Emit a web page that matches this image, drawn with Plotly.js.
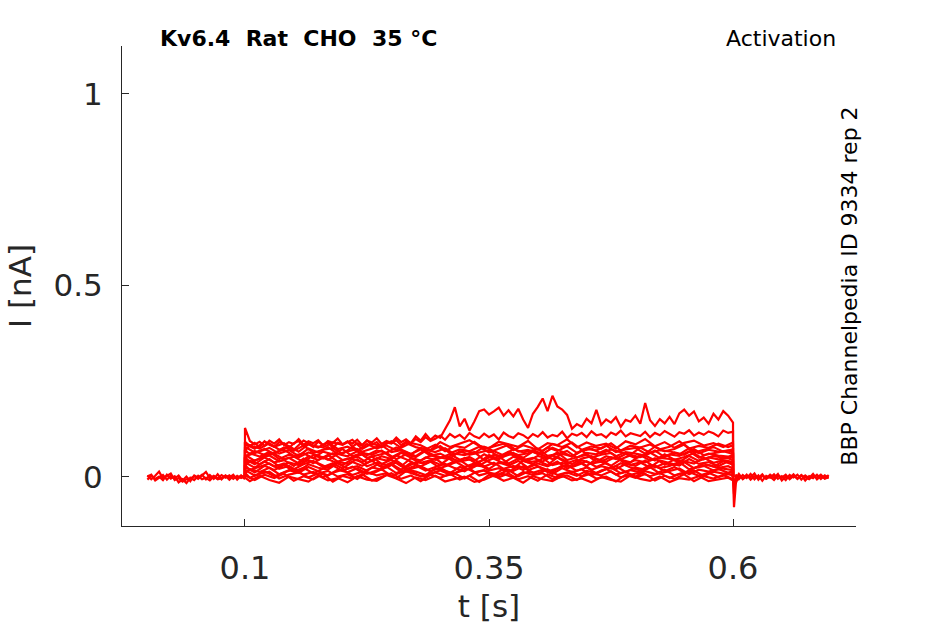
<!DOCTYPE html>
<html>
<head>
<meta charset="utf-8">
<script src="https://cdn.plot.ly/plotly-3.0.1.min.js"></script>
<style>html,body{margin:0;padding:0;background:#fff;}#chart{width:945px;height:624px;}</style>
</head>
<body>
<div id="chart"></div>
<script>
// ---- time grids (s) ----
const tPre = [0.000,0.004,0.008,0.012,0.016,0.020,0.024,0.028,0.032,0.036,0.040,0.044,0.048,0.052,0.056,0.060,0.064,0.068,0.072,0.076,0.080,0.084,0.088,0.092,0.096,0.100];
const tPost = [0.600,0.601,0.603,0.606,0.610,0.614,0.618,0.622,0.626,0.630,0.634,0.638,0.642,0.646,0.650,0.654,0.658,0.662,0.666,0.670,0.674,0.678,0.682,0.686,0.690,0.694,0.698];
const tStepA = [0.10,0.10,0.11,0.12,0.13,0.14,0.15,0.16,0.17,0.18,0.19,0.20,0.21,0.22,0.23,0.24,0.25,0.26,0.27,0.28,0.29,0.30,0.31,0.32,0.33,0.34,0.35,0.36,0.37,0.38,0.39,0.40,0.41,0.42,0.43,0.44,0.45,0.46,0.47,0.48,0.49,0.50,0.51,0.52,0.53,0.54,0.55,0.56,0.57,0.58,0.59,0.60,0.60];
const tStepB = [0.100,0.100,0.105,0.115,0.125,0.135,0.145,0.155,0.165,0.175,0.185,0.195,0.205,0.215,0.225,0.235,0.245,0.255,0.265,0.275,0.285,0.295,0.305,0.315,0.325,0.335,0.345,0.355,0.365,0.375,0.385,0.395,0.405,0.415,0.425,0.435,0.445,0.455,0.465,0.475,0.485,0.495,0.505,0.515,0.525,0.535,0.545,0.555,0.565,0.575,0.585,0.595,0.600,0.600];
const tHigh = [0.100,0.100,0.105,0.110,0.115,0.120,0.125,0.130,0.135,0.140,0.145,0.150,0.155,0.160,0.165,0.170,0.175,0.180,0.185,0.190,0.195,0.200,0.205,0.210,0.215,0.220,0.225,0.230,0.235,0.240,0.245,0.250,0.255,0.260,0.265,0.270,0.275,0.280,0.285,0.290,0.295,0.300,0.305,0.310,0.315,0.320,0.325,0.330,0.335,0.340,0.345,0.350,0.355,0.360,0.365,0.370,0.375,0.380,0.385,0.390,0.395,0.400,0.405,0.410,0.415,0.420,0.425,0.430,0.435,0.440,0.445,0.450,0.455,0.460,0.465,0.470,0.475,0.480,0.485,0.490,0.495,0.500,0.505,0.510,0.515,0.520,0.525,0.530,0.535,0.540,0.545,0.550,0.555,0.560,0.565,0.570,0.575,0.580,0.585,0.590,0.595,0.600,0.600];

// ---- baseline before the step (nA) ----
const pre1 = [0.004,-0.006,0.003,0.014,-0.004,0.002,0.009,-0.008,-0.003,-0.012,-0.006,-0.004,0.002,-0.005,0.004,0.013,-0.003,0.003,-0.004,0.005,-0.002,0.004,-0.005,0.003,-0.003,0.002];
const pre2 = [-0.007,0.003,-0.005,0.001,-0.008,0.006,-0.004,0.002,-0.014,-0.006,-0.016,-0.002,-0.008,0.003,-0.006,-0.002,-0.009,0.001,-0.006,-0.003,0.003,-0.007,0.002,-0.004,0.004,-0.006];
const pre3 = [0.001,0.006,-0.009,-0.002,0.005,-0.007,0.003,-0.004,0.004,-0.009,0.001,-0.011,0.004,-0.002,0.006,-0.006,0.005,-0.005,0.007,-0.006,0.004,-0.002,0.006,-0.007,0.003,-0.001];

// ---- tail after the step (nA) ----
const post1 = [0.004,-0.079,-0.015,0.003,-0.004,0.006,-0.007,0.002,-0.003,0.007,-0.005,0.001,-0.008,0.004,-0.002,0.006,-0.006,0.003,-0.004,0.005,-0.009,0.002,-0.003,0.006,-0.005,0.004,-0.002];
const post2 = [-0.002,-0.045,0.006,-0.006,0.005,-0.003,0.008,-0.006,0.004,-0.010,0.003,-0.002,0.007,-0.005,0.002,-0.008,0.005,-0.001,0.006,-0.007,0.004,-0.003,0.008,-0.006,0.003,-0.004,0.005];
const post3 = [0.006,-0.025,-0.004,0.008,-0.006,0.002,-0.001,0.009,-0.007,0.003,-0.004,0.006,-0.002,0.008,-0.009,0.001,-0.003,0.007,-0.005,0.004,-0.001,-0.006,0.003,-0.002,0.006,-0.004,-0.001];

// ---- step sweeps on grid A (nA) ----
const a0 = [0,0.004,-0.008,0.006,-0.003,0.009,-0.010,0.002,-0.006,0.008,-0.012,0.003,-0.004,0.007,-0.009,0.001,0.010,-0.005,0.004,-0.011,0.006,-0.002,0.008,-0.007,0.003,-0.013,0.005,-0.001,0.009,-0.006,0.002,-0.010,0.007,-0.003,0.004,-0.008,0.010,-0.004,0.001,-0.012,0.006,-0.002,0.008,-0.009,0.003,-0.005,0.007,-0.011,0.002,-0.004,0.005,-0.006,0];
const a1 = [0,0.018,0.004,0.015,0.002,0.012,0.021,0.006,0.013,-0.001,0.011,0.019,0.005,0.014,0.008,0.020,0.003,0.012,0.016,0.001,0.010,0.017,0.006,0.013,0.022,0.004,0.011,0.007,0.018,0.002,0.014,0.009,0.020,0.005,0.012,0.003,0.016,0.010,0.021,0.006,0.013,0.001,0.015,0.008,0.019,0.004,0.011,0.017,0.002,0.014,0.009,0.012,0];
const a2 = [0,0.026,0.012,0.029,0.018,0.031,0.014,0.024,0.009,0.022,0.030,0.016,0.027,0.011,0.025,0.019,0.032,0.013,0.021,0.028,0.015,0.024,0.010,0.026,0.020,0.033,0.017,0.023,0.012,0.029,0.018,0.027,0.014,0.022,0.031,0.016,0.025,0.009,0.021,0.028,0.013,0.024,0.019,0.030,0.015,0.026,0.011,0.023,0.029,0.017,0.022,0.018,0];
const a3 = [0,0.038,0.024,0.041,0.027,0.035,0.020,0.033,0.042,0.026,0.036,0.022,0.039,0.029,0.043,0.025,0.034,0.019,0.037,0.028,0.040,0.023,0.032,0.044,0.027,0.036,0.021,0.038,0.030,0.042,0.024,0.035,0.028,0.040,0.022,0.033,0.041,0.026,0.037,0.020,0.034,0.029,0.043,0.025,0.036,0.031,0.039,0.023,0.035,0.027,0.041,0.032,0];
const a4 = [0,0.046,0.033,0.051,0.038,0.044,0.029,0.048,0.036,0.052,0.041,0.031,0.047,0.039,0.053,0.034,0.045,0.028,0.049,0.037,0.043,0.032,0.050,0.040,0.046,0.030,0.044,0.054,0.035,0.048,0.038,0.042,0.031,0.051,0.036,0.045,0.029,0.047,0.040,0.053,0.033,0.044,0.038,0.049,0.032,0.046,0.041,0.035,0.050,0.037,0.043,0.039,0];
const a5 = [0,0.058,0.042,0.055,0.061,0.046,0.053,0.039,0.057,0.048,0.062,0.044,0.051,0.059,0.041,0.054,0.047,0.063,0.050,0.043,0.056,0.049,0.060,0.045,0.052,0.038,0.057,0.046,0.061,0.053,0.042,0.055,0.048,0.064,0.044,0.051,0.058,0.040,0.054,0.047,0.060,0.049,0.056,0.043,0.059,0.045,0.052,0.062,0.046,0.055,0.050,0.053,0];
const a6 = [0,0.052,0.068,0.057,0.064,0.071,0.055,0.062,0.049,0.066,0.059,0.073,0.054,0.063,0.058,0.069,0.051,0.065,0.060,0.072,0.056,0.061,0.048,0.067,0.058,0.064,0.070,0.053,0.066,0.057,0.062,0.074,0.055,0.060,0.068,0.050,0.063,0.059,0.071,0.054,0.065,0.061,0.056,0.069,0.052,0.064,0.058,0.073,0.057,0.062,0.067,0.060,0];
const a7 = [0,0.079,0.064,0.073,0.060,0.077,0.068,0.082,0.063,0.071,0.075,0.061,0.078,0.066,0.074,0.083,0.065,0.070,0.059,0.076,0.069,0.081,0.062,0.072,0.067,0.079,0.064,0.073,0.084,0.066,0.071,0.060,0.077,0.068,0.080,0.063,0.074,0.069,0.082,0.065,0.072,0.076,0.061,0.079,0.067,0.073,0.085,0.064,0.070,0.078,0.066,0.072,0];
const a8 = [0,0.086,0.074,0.092,0.079,0.088,0.071,0.095,0.082,0.077,0.090,0.084,0.097,0.073,0.087,0.080,0.093,0.076,0.089,0.083,0.070,0.091,0.078,0.086,0.096,0.081,0.075,0.092,0.085,0.079,0.094,0.072,0.088,0.083,0.098,0.077,0.090,0.081,0.087,0.074,0.093,0.085,0.099,0.080,0.091,0.076,0.089,0.095,0.082,0.088,0.078,0.090,0];

// ---- step sweeps on grid B (nA) ----
const b0 = [0,-0.002,-0.011,0.003,-0.008,-0.015,0.001,-0.006,-0.012,0.004,-0.009,-0.003,-0.014,0.002,-0.007,-0.010,0.005,-0.004,-0.016,-0.001,-0.008,0.003,-0.012,-0.005,0.001,-0.013,-0.007,0.004,-0.010,-0.002,-0.015,0.002,-0.006,-0.011,0.003,-0.009,-0.004,-0.014,0.000,-0.008,-0.012,0.004,-0.005,-0.010,0.001,-0.013,-0.003,-0.007,0.002,-0.011,-0.006,-0.002,-0.009,0];
const b1 = [0,0.011,-0.002,0.008,0.014,-0.004,0.006,0.012,-0.001,0.009,0.016,0.001,0.007,-0.005,0.013,0.004,0.010,-0.003,0.015,0.006,0.000,0.012,0.003,0.009,-0.004,0.011,0.017,0.002,0.008,-0.002,0.013,0.005,0.010,-0.006,0.007,0.014,0.001,0.009,0.004,0.015,-0.001,0.006,0.012,0.002,0.010,-0.003,0.008,0.013,0.003,0.011,0.000,0.007,0.004,0];
const b2 = [0,0.009,0.021,0.013,0.024,0.007,0.018,0.011,0.026,0.016,0.004,0.019,0.012,0.023,0.008,0.017,0.027,0.010,0.020,0.014,0.005,0.022,0.015,0.009,0.025,0.012,0.018,0.006,0.021,0.016,0.028,0.011,0.019,0.008,0.023,0.013,0.020,0.004,0.017,0.024,0.010,0.018,0.012,0.026,0.009,0.015,0.022,0.007,0.019,0.014,0.021,0.011,0.016,0];
const b3 = [0,0.031,0.018,0.027,0.035,0.021,0.029,0.014,0.033,0.024,0.019,0.036,0.022,0.028,0.016,0.032,0.025,0.038,0.020,0.030,0.017,0.026,0.034,0.023,0.015,0.031,0.027,0.037,0.021,0.029,0.018,0.033,0.024,0.013,0.030,0.026,0.035,0.019,0.028,0.022,0.036,0.025,0.017,0.032,0.023,0.029,0.039,0.020,0.027,0.031,0.024,0.028,0.022,0];
const b4 = [0,0.029,0.042,0.033,0.047,0.027,0.038,0.031,0.044,0.036,0.024,0.040,0.034,0.046,0.028,0.037,0.032,0.043,0.025,0.039,0.035,0.048,0.030,0.041,0.026,0.036,0.045,0.033,0.038,0.023,0.042,0.034,0.049,0.031,0.037,0.027,0.044,0.035,0.040,0.029,0.046,0.032,0.038,0.025,0.043,0.036,0.030,0.047,0.034,0.039,0.028,0.041,0.035,0];
const b5 = [0,0.052,0.039,0.048,0.056,0.041,0.050,0.035,0.054,0.044,0.058,0.040,0.047,0.053,0.037,0.049,0.043,0.057,0.046,0.034,0.051,0.045,0.055,0.038,0.049,0.042,0.059,0.047,0.036,0.053,0.044,0.050,0.040,0.056,0.046,0.033,0.048,0.054,0.041,0.052,0.045,0.038,0.057,0.043,0.050,0.047,0.039,0.055,0.042,0.051,0.046,0.049,0.044,0];
const b6 = [0,0.049,0.062,0.053,0.066,0.047,0.058,0.051,0.064,0.056,0.045,0.060,0.054,0.067,0.050,0.057,0.063,0.046,0.059,0.052,0.068,0.055,0.048,0.061,0.057,0.065,0.044,0.058,0.053,0.062,0.050,0.066,0.056,0.047,0.060,0.054,0.069,0.051,0.058,0.063,0.046,0.057,0.052,0.064,0.049,0.059,0.055,0.067,0.050,0.061,0.056,0.053,0.058,0];
const b7 = [0,0.072,0.058,0.068,0.076,0.061,0.070,0.055,0.074,0.064,0.078,0.060,0.067,0.073,0.057,0.069,0.063,0.077,0.066,0.054,0.071,0.065,0.075,0.059,0.069,0.062,0.079,0.067,0.056,0.073,0.064,0.070,0.060,0.076,0.066,0.053,0.068,0.074,0.061,0.072,0.065,0.058,0.077,0.063,0.070,0.067,0.059,0.075,0.062,0.071,0.066,0.069,0.064,0];
const b8 = [0,0.069,0.083,0.074,0.088,0.071,0.080,0.066,0.085,0.077,0.091,0.073,0.079,0.068,0.086,0.075,0.082,0.070,0.089,0.078,0.072,0.084,0.067,0.081,0.076,0.092,0.073,0.079,0.087,0.070,0.083,0.075,0.068,0.086,0.078,0.090,0.071,0.080,0.074,0.088,0.069,0.082,0.077,0.085,0.072,0.079,0.093,0.074,0.081,0.076,0.087,0.078,0.083,0];

// ---- largest sweeps on the fine grid (nA) ----
const hiA = [0,0.128,0.094,0.085,0.092,0.081,0.095,0.087,0.098,0.083,0.091,0.086,0.099,0.084,0.093,0.088,0.096,0.082,0.094,0.089,0.100,0.085,0.092,0.087,0.097,0.083,0.095,0.090,0.101,0.086,0.094,0.089,0.103,0.091,0.098,0.088,0.106,0.095,0.112,0.097,0.108,0.102,0.125,0.148,0.182,0.132,0.152,0.121,0.145,0.172,0.176,0.163,0.171,0.181,0.160,0.174,0.158,0.178,0.150,0.128,0.165,0.183,0.205,0.172,0.212,0.184,0.176,0.162,0.126,0.138,0.131,0.152,0.140,0.175,0.136,0.150,0.142,0.156,0.131,0.149,0.144,0.160,0.139,0.193,0.148,0.133,0.151,0.140,0.157,0.138,0.166,0.176,0.160,0.171,0.145,0.155,0.139,0.165,0.150,0.172,0.160,0.142,0];
const hiB = [0,0.092,0.081,0.089,0.077,0.093,0.084,0.079,0.091,0.086,0.075,0.088,0.094,0.080,0.087,0.078,0.092,0.083,0.090,0.076,0.089,0.085,0.093,0.079,0.088,0.082,0.095,0.084,0.091,0.078,0.090,0.087,0.096,0.083,0.092,0.088,0.099,0.091,0.104,0.094,0.100,0.108,0.097,0.112,0.103,0.110,0.099,0.115,0.106,0.101,0.113,0.104,0.111,0.098,0.116,0.107,0.102,0.114,0.109,0.100,0.112,0.105,0.117,0.103,0.110,0.106,0.118,0.101,0.113,0.108,0.115,0.104,0.119,0.109,0.112,0.103,0.116,0.110,0.121,0.106,0.114,0.111,0.107,0.118,0.104,0.115,0.109,0.120,0.112,0.105,0.117,0.113,0.122,0.108,0.116,0.110,0.119,0.114,0.106,0.121,0.115,0.118,0];

// ---- tick labels ----
const xTickVals = [0.1, 0.35, 0.6];
const xTickText = ['0.1', '0.35', '0.6'];
const yTickVals = [0, 0.5, 1];
const yTickText = ['0', '0.5', '1'];

const sweeps = [
  [tPre, pre1], [tPre, pre2], [tPre, pre3],
  [tStepA, a0], [tStepA, a1], [tStepA, a2], [tStepA, a3], [tStepA, a4], [tStepA, a5], [tStepA, a6], [tStepA, a7], [tStepA, a8],
  [tStepB, b0], [tStepB, b1], [tStepB, b2], [tStepB, b3], [tStepB, b4], [tStepB, b5], [tStepB, b6], [tStepB, b7], [tStepB, b8],
  [tHigh, hiB], [tHigh, hiA],
  [tPost, post3], [tPost, post2], [tPost, post1]
];

const traces = sweeps.map(s => ({
  x: s[0], y: s[1], type: 'scatter', mode: 'lines',
  line: {color: '#ff0000', width: 2.2}, hoverinfo: 'skip', showlegend: false
}));

const ink = '#262626';
const layout = {
  width: 945, height: 624,
  margin: {l: 122, r: 89, t: 46, b: 98, pad: 0},
  paper_bgcolor: '#ffffff', plot_bgcolor: '#ffffff',
  font: {family: 'DejaVu Sans', color: ink},
  showlegend: false,
  xaxis: {
    range: [-0.026, 0.726], tickvals: xTickVals, ticktext: xTickText,
    showline: true, linecolor: ink, linewidth: 1, mirror: false,
    ticks: 'inside', ticklen: 7, tickwidth: 1, tickcolor: ink,
    showgrid: false, zeroline: false, ticklabelstandoff: 14,
    tickfont: {family: 'DejaVu Sans', size: 32, color: ink},
    title: {text: 't [s]', font: {family: 'DejaVu Sans', size: 31, color: ink}, standoff: 12},
    automargin: false
  },
  yaxis: {
    range: [-0.128, 1.125], tickvals: yTickVals, ticktext: yTickText,
    showline: true, linecolor: ink, linewidth: 1, mirror: false,
    ticks: 'inside', ticklen: 7, tickwidth: 1, tickcolor: ink,
    showgrid: false, zeroline: false, ticklabelstandoff: 12,
    tickfont: {family: 'DejaVu Sans', size: 31, color: ink},
    title: {text: 'I [nA]', font: {family: 'DejaVu Sans', size: 31, color: ink}, standoff: 12},
    automargin: false
  },
  annotations: [
    {text: '<b>Kv6.4\u00a0\u00a0Rat\u00a0\u00a0CHO\u00a0\u00a035 °C</b>', xref: 'paper', yref: 'paper',
     x: 0.049, y: 1.0146, xanchor: 'left', yanchor: 'middle', showarrow: false,
     font: {family: 'DejaVu Sans', size: 22, color: '#000000'}},
    {text: 'Activation', xref: 'paper', yref: 'paper',
     x: 0.9755, y: 1.0146, xanchor: 'right', yanchor: 'middle', showarrow: false,
     font: {family: 'DejaVu Sans', size: 22, color: '#000000'}},
    {text: 'BBP Channelpedia ID 9334 rep 2', xref: 'paper', yref: 'paper',
     x: 0.990, y: 0.5, xanchor: 'center', yanchor: 'middle', textangle: -90, showarrow: false,
     font: {family: 'DejaVu Sans', size: 22, color: '#000000'}}
  ]
};

Plotly.newPlot('chart', traces, layout, {displayModeBar: false, staticPlot: true});
</script>
</body>
</html>
